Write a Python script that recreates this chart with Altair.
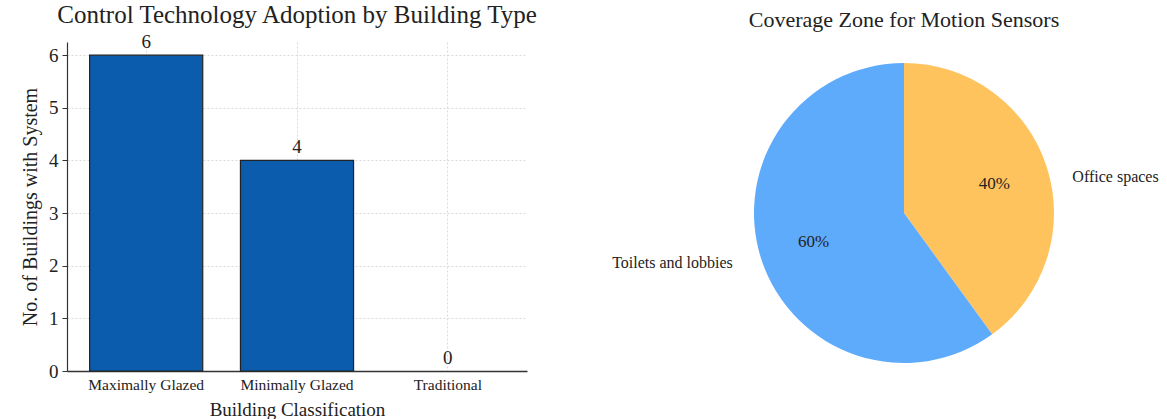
import altair as alt
import pandas as pd

categories = ["Maximally Glazed", "Minimally Glazed", "Traditional"]
counts = [6, 4, 0]
zones = ["Office spaces", "Toilets and lobbies"]
shares = [40, 60]
zone_colors = ["#FFC35E", "#5EAAFB"]
bar_color = "#0B5CAD"

FONT = "Liberation Serif"

bar_df = pd.DataFrame({"Building": categories, "Count": counts})
pie_df = pd.DataFrame({
    "Zone": zones,
    "Share": shares,
    "order": list(range(len(zones))),
    "Label": [f"{s}%" for s in shares],
})

x_enc = alt.X(
    "Building:N", sort=categories, title="Building Classification",
    scale=alt.Scale(paddingInner=0.25, paddingOuter=0.15),
    axis=alt.Axis(labelAngle=0, labelFontSize=15.5, titleFontSize=19, ticks=False,
                  labelPadding=6, titlePadding=8, grid=True),
)
y_enc = alt.Y(
    "Count:Q", title="No. of Buildings with System",
    scale=alt.Scale(domain=[0, 6.25], nice=False),
    axis=alt.Axis(values=[0, 1, 2, 3, 4, 5, 6], format="d", labelFontSize=19, titleFontSize=20,
                  tickSize=5, labelPadding=4, titlePadding=8, grid=True),
)

bars = alt.Chart(bar_df).mark_bar(
    color=bar_color, stroke="#222222", strokeWidth=1.2
).encode(
    x=x_enc, y=y_enc,
    strokeOpacity=alt.condition(alt.datum.Count > 0, alt.value(1), alt.value(0)),
)

bar_text = alt.Chart(bar_df).mark_text(
    dy=-13, fontSize=19, font=FONT, color="#222222"
).encode(x=alt.X("Building:N", sort=categories), y="Count:Q", text="Count:Q")

bar_chart = (bars + bar_text).properties(
    width=460, height=329,
    title=alt.TitleParams("Control Technology Adoption by Building Type",
                          fontSize=25, font=FONT, fontWeight="normal", offset=5, color="#222222"),
)

CX = 262
CY = 171
R = 150

arcs = alt.Chart(pie_df).mark_arc(outerRadius=R).encode(
    theta=alt.Theta("Share:Q", stack=True),
    order=alt.Order("order:Q"),
    color=alt.Color("Zone:N", scale=alt.Scale(domain=zones, range=zone_colors), legend=None),
    x=alt.value(CX), y=alt.value(CY),
)

label_base = alt.Chart(pie_df).transform_window(
    cum="sum(Share)", sort=[alt.SortField("order")]
).transform_calculate(
    mid="datum.cum - datum.Share / 2"
)

theta_mid = alt.Theta("mid:Q", stack=None,
                      scale=alt.Scale(domain=[0, sum(shares)], range=[0, 6.283185307179586]))

pct = label_base.mark_text(radius=95, fontSize=17, font=FONT, color="#222222").encode(
    theta=theta_mid, text="Label:N", x=alt.value(CX), y=alt.value(CY),
)

lab_office = label_base.transform_filter(alt.datum.Zone == "Office spaces").mark_text(
    radius=177, fontSize=16, font=FONT, align="left", dy=19, color="#222222"
).encode(theta=theta_mid, text="Zone:N", x=alt.value(CX), y=alt.value(CY))

lab_toilet = label_base.transform_filter(alt.datum.Zone == "Toilets and lobbies").mark_text(
    radius=180, fontSize=16, font=FONT, align="right", dy=-6, color="#222222"
).encode(theta=theta_mid, text="Zone:N", x=alt.value(CX), y=alt.value(CY))

pie_chart = (arcs + pct + lab_office + lab_toilet).properties(
    width=524, height=329,
    title=alt.TitleParams("Coverage Zone for Motion Sensors",
                          fontSize=22, font=FONT, fontWeight="normal", offset=10, color="#222222"),
)

chart = alt.hconcat(bar_chart, pie_chart, spacing=74).properties(
    padding={"left": 20, "top": 3, "right": 0, "bottom": 0},
).configure_view(stroke=None).configure_axis(
    labelFont=FONT, titleFont=FONT, labelColor="#222222", titleColor="#222222",
    titleFontWeight="normal", domainColor="#333333", domainWidth=1.2, tickColor="#333333",
    gridColor="#d0d0d0", gridDash=[2, 2], gridWidth=0.8,
).configure_axisX(domainWidth=1.5)

chart.save("out.html", embed_options={"renderer": "svg", "actions": False})
